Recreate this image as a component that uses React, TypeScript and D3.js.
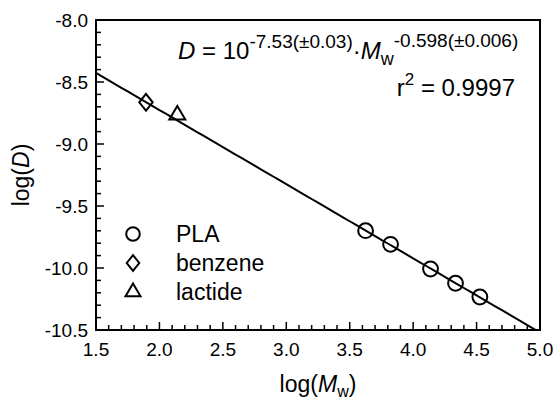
import React from "react";
import * as d3 from "d3";

// data
const plaLogMw = [3.625, 3.822, 4.137, 4.334, 4.526];
const plaLogD = [-9.699, -9.809, -10.008, -10.123, -10.234];
const benzeneLogMw = [1.894];
const benzeneLogD = [-8.664];
const lactideLogMw = [2.141];
const lactideLogD = [-8.766];
const fitIntercept = -7.53;
const fitSlope = -0.598;
const xTicks = [1.5, 2.0, 2.5, 3.0, 3.5, 4.0, 4.5, 5.0];
const yTicks = [-8.0, -8.5, -9.0, -9.5, -10.0, -10.5];
const legendNames = ["PLA", "benzene", "lactide"];

const W = 556;
const H = 399;
const margin = { left: 96, right: 16, top: 20, bottom: 69 };
const FONT = "Arial, 'Liberation Sans', sans-serif";

const x = d3.scaleLinear().domain([1.5, 5.0]).range([margin.left, W - margin.right]);
const y = d3.scaleLinear().domain([-8.0, -10.5]).range([margin.top, H - margin.bottom]);

const minorX = d3.range(15, 51).map((v) => v / 10);
const minorY = d3.range(-105, -79).map((v) => v / 10);

const tri = (s: number) => {
  const h = s * 0.85;
  return `M0,${(-2 * h) / 3}L${s / 2},${h / 3}L${-s / 2},${h / 3}Z`;
};
const dia = (s: number) => `M0,${-s}L${s * 0.8},0L0,${s}L${-s * 0.8},0Z`;

function Marker({ kind, cx, cy, big }: { kind: number; cx: number; cy: number; big?: boolean }) {
  const common = { fill: "none", stroke: "#000", strokeWidth: 2 };
  if (kind === 0) return <circle cx={cx} cy={cy} r={big ? 7.4 : 6.8} {...common} />;
  if (kind === 1) return <path d={dia(big ? 8.4 : 7.8)} transform={`translate(${cx},${cy})`} {...common} />;
  return <path d={tri(big ? 16 : 15)} transform={`translate(${cx},${cy})`} {...common} />;
}

export default function App() {
  const [x0, x1] = x.domain();
  const line = d3
    .line<number>()
    .x((d) => x(d))
    .y((d) => y(fitIntercept + fitSlope * d));
  const lineData = d3.range(x0, x1 + 0.001, 0.05);
  const pw = x.range()[1] - x.range()[0];
  const ph = y.range()[1] - y.range()[0];

  return (
    <svg
      width={W}
      height={H}
      style={{ position: "absolute", left: 0, top: 0, background: "#fff" }}
      fontFamily={FONT}
    >
      <defs>
        <clipPath id="plot">
          <rect x={margin.left} y={margin.top} width={pw} height={ph} />
        </clipPath>
      </defs>

      {/* fit line */}
      <path d={line(lineData) || ""} fill="none" stroke="#000" strokeWidth={2} clipPath="url(#plot)" />

      {/* points */}
      {plaLogMw.map((v, i) => (
        <Marker key={"p" + i} kind={0} cx={x(v)} cy={y(plaLogD[i])} big />
      ))}
      {benzeneLogMw.map((v, i) => (
        <Marker key={"b" + i} kind={1} cx={x(v)} cy={y(benzeneLogD[i])} big />
      ))}
      {lactideLogMw.map((v, i) => (
        <Marker key={"l" + i} kind={2} cx={x(v)} cy={y(lactideLogD[i])} big />
      ))}

      {/* frame */}
      <rect x={margin.left} y={margin.top} width={pw} height={ph} fill="none" stroke="#000" strokeWidth={2} />

      {/* ticks */}
      {minorX.map((v) => {
        const major = xTicks.some((t) => Math.abs(t - v) < 1e-6);
        return (
          <line key={"mx" + v} x1={x(v)} x2={x(v)} y1={y(-10.5)} y2={y(-10.5) - (major ? 8 : 5)} stroke="#000" strokeWidth={1.5} />
        );
      })}
      {minorY.map((v) => {
        const major = yTicks.some((t) => Math.abs(t - v) < 1e-6);
        return (
          <line key={"my" + v} x1={x(1.5)} x2={x(1.5) + (major ? 8 : 5)} y1={y(v)} y2={y(v)} stroke="#000" strokeWidth={1.5} />
        );
      })}

      {/* tick labels */}
      {xTicks.map((t) => (
        <text key={"xt" + t} x={x(t)} y={y(-10.5) + 26} textAnchor="middle" fontSize={19}>
          {t.toFixed(1)}
        </text>
      ))}
      {yTicks.map((t) => (
        <text key={"yt" + t} x={x(1.5) - 8} y={y(t) + 7} textAnchor="end" fontSize={19}>
          {t.toFixed(1)}
        </text>
      ))}

      {/* axis titles */}
      <text x={(x(1.5) + x(5.0)) / 2} y={392} textAnchor="middle" fontSize={23}>
        log(<tspan fontStyle="italic">M</tspan>
        <tspan fontSize={16} dy={5}>w</tspan>
        <tspan dy={-5}>)</tspan>
      </text>
      <text transform={`translate(29,${(y(-8) + y(-10.5)) / 2}) rotate(-90)`} textAnchor="middle" fontSize={23}>
        log(<tspan fontStyle="italic">D</tspan>)
      </text>

      {/* equation */}
      <text x={178} y={59} fontSize={24}>
        <tspan fontStyle="italic">D</tspan> = 10
        <tspan fontSize={19} dy={-11}>-7.53(±0.03)</tspan>
        <tspan dy={11}>·</tspan>
        <tspan fontStyle="italic">M</tspan>
        <tspan fontSize={18} dy={6}>w</tspan>
        <tspan fontSize={19} dy={-18}>-0.598(±0.006)</tspan>
      </text>
      <text x={515} y={96} fontSize={24} textAnchor="end">
        r<tspan fontSize={17} dy={-11}>2</tspan>
        <tspan dy={11}> = 0.9997</tspan>
      </text>

      {/* legend */}
      {legendNames.map((n, i) => (
        <g key={n}>
          <Marker kind={i} cx={133} cy={234 + i * 29} />
          <text x={176} y={234 + i * 29 + 8} fontSize={23}>
            {n}
          </text>
        </g>
      ))}
    </svg>
  );
}
